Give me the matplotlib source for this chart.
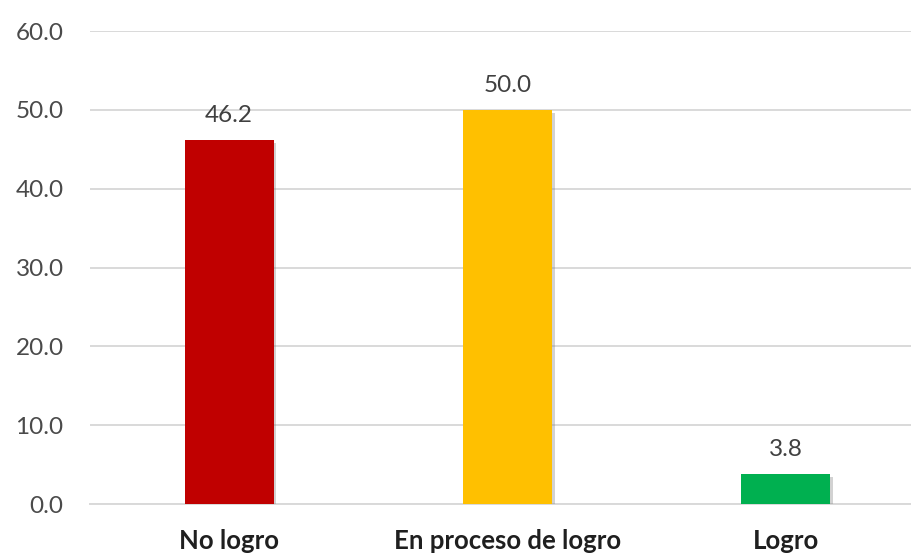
import matplotlib as mpl
mpl.use('Agg')
import matplotlib.pyplot as plt
import matplotlib.patheffects as pe

# data
categories = ['No logro', 'En proceso de logro', 'Logro']
values = [46.2, 50.0, 3.8]
bar_colors = ['#C00000', '#FFC000', '#00B050']
yticks = [0, 10, 20, 30, 40, 50, 60]

plt.rcParams['font.family'] = ['Lato', 'DejaVu Sans']

fig = plt.figure(figsize=(9.11, 5.56), dpi=100)
# axes runs a bit past the right edge, like the cropped original
ax = fig.add_axes([0.0988, 0.0935, 0.9166, 0.8507])

x = list(range(len(categories)))
bars = ax.bar(x, values, width=0.32, color=bar_colors, zorder=3)
for b in bars:
    b.set_path_effects([pe.SimplePatchShadow(offset=(2, -2), shadow_rgbFace='#808080', alpha=0.35),
                        pe.Normal()])

for xi, v in zip(x, values):
    ax.annotate(f'{v:.1f}', (xi, v), xytext=(0, 10), textcoords='offset points',
                ha='center', va='bottom', fontsize=17.5, color='#404040')

ax.set_xlim(-0.5, 2.5)
ax.set_ylim(0, 60)
ax.set_yticks(yticks)
ax.set_yticklabels([f'{t:.1f}' for t in yticks], fontsize=17.5, color='#4a4a4a')
ax.set_xticks(x)
ax.set_xticklabels(categories, fontsize=18.5, fontweight='bold', color='#1f1f1f')
ax.tick_params(axis='both', length=0)
ax.tick_params(axis='y', pad=19)
ax.tick_params(axis='x', pad=18)

ax.grid(axis='y', color='#D9D9D9', linewidth=1.4, zorder=0)
for s in ['top', 'right', 'left']:
    ax.spines[s].set_visible(False)
ax.spines['bottom'].set_color('#D9D9D9')
ax.spines['bottom'].set_linewidth(1.4)

fig.savefig('out.png', dpi=100)
